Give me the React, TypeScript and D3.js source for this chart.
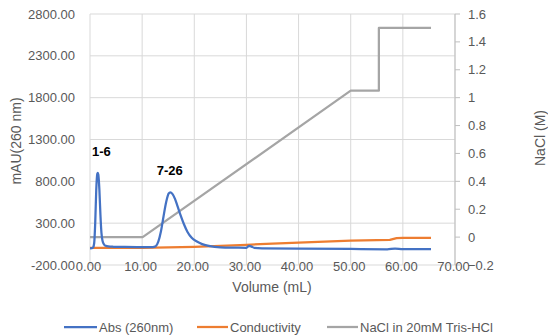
import React from "react";
import * as d3 from "d3";

const absVolume = [0, 0.4, 0.6, 0.8, 1.0, 1.2, 1.4, 1.5, 1.6, 1.8, 2.0, 2.2, 2.4, 2.7, 3.0, 3.5, 4.5, 6, 9, 12, 12.6, 13.1, 13.6, 14.1, 14.6, 15.1, 15.4, 15.8, 16.3, 16.8, 17.4, 18, 18.7, 19.5, 20.5, 21.5, 23, 25, 28, 30, 30.5, 31, 31.5, 33, 40, 50, 57, 58.5, 60, 65.4];
const absValues = [0, 2, 10, 60, 300, 700, 890, 900, 880, 700, 400, 180, 90, 45, 30, 22, 18, 16, 15, 15, 25, 80, 200, 380, 550, 655, 668, 650, 590, 500, 390, 290, 195, 125, 80, 50, 25, 12, 8, 6, 30, 20, 5, 0, -3, -8, -12, -5, -10, -10];

const condVolume = [0, 5, 10, 15, 20, 25, 30, 35, 40, 45, 50, 55, 57.5, 58.8, 60, 65.4];
const condValues = [5, 5, 6, 10, 18, 30, 42, 55, 68, 80, 90, 98, 100, 122, 125, 124];

const naclVolume = [0, 10.1, 50, 55.4, 55.4, 65.4];
const naclValues = [0, 0, 1.05, 1.05, 1.5, 1.5];

const xTicks = [0, 10, 20, 30, 40, 50, 60, 70];
const yLeftTicks = [-200, 300, 800, 1300, 1800, 2300, 2800];
const yRightTicks = [-0.2, 0, 0.2, 0.4, 0.6, 0.8, 1, 1.2, 1.4, 1.6];

const seriesNames = ["Abs (260nm)", "Conductivity", "NaCl in 20mM Tris-HCl"];
const seriesColors = ["#4472C4", "#ED7D31", "#A5A5A5"];
const peakLabels = [
  { text: "1-6", vol: 2.2, val: 1100 },
  { text: "7-26", vol: 15.3, val: 880 },
];

const FONT = '"Liberation Sans", Arial, sans-serif';
const TEXT = "#595959";

export default function App() {
  const W = 548, H = 336;
  const x = d3.scaleLinear().domain([0, 70]).range([90, 455]);
  const yL = d3.scaleLinear().domain([-200, 2800]).range([265, 14]);
  const yR = d3.scaleLinear().domain([-0.2, 1.6]).range([265, 14]);

  const absLine = d3.line<number>().x((_, i) => x(absVolume[i])).y((d) => yL(d)).curve(d3.curveMonotoneX);
  const condLine = d3.line<number>().x((_, i) => x(condVolume[i])).y((d) => yL(d));
  const naclLine = d3.line<number>().x((_, i) => x(naclVolume[i])).y((d) => yR(d));

  const legendItems = [
    { x0: 64, x1: 97, tx: 99 },
    { x0: 197, x1: 228, tx: 230 },
    { x0: 327, x1: 358, tx: 360 },
  ];

  return (
    <div style={{ position: "fixed", left: 0, top: 0 }}>
      <svg width={W} height={H} style={{ display: "block", background: "#fff" }} fontFamily={FONT}>
        {yLeftTicks.map((t) => (
          <line key={"h" + t} x1={x(0)} x2={x(70)} y1={yL(t)} y2={yL(t)} stroke="#D9D9D9" strokeWidth={1} />
        ))}
        {xTicks.map((t) => (
          <line key={"v" + t} x1={x(t)} x2={x(t)} y1={yL(2800)} y2={yL(-200)} stroke="#D9D9D9" strokeWidth={1} />
        ))}
        <line x1={x(70)} x2={x(70)} y1={yR(1.6)} y2={yR(-0.2)} stroke="#BFBFBF" strokeWidth={1} />
        {yRightTicks.map((t) => (
          <line key={"rt" + t} x1={x(70)} x2={x(70) + 5} y1={yR(t)} y2={yR(t)} stroke="#BFBFBF" strokeWidth={1} />
        ))}
        {yLeftTicks.map((t) => (
          <text key={"yl" + t} x={75} y={yL(t) + 4.5} textAnchor="end" fontSize={13} fill={TEXT}>
            {t.toFixed(2)}
          </text>
        ))}
        {yRightTicks.map((t) => (
          <text key={"yr" + t} x={468} y={yR(t) + 4.5} textAnchor="start" fontSize={13} fill={TEXT}>
            {d3.format("")(+t.toFixed(1))}
          </text>
        ))}
        {xTicks.map((t) => (
          <text key={"xl" + t} x={x(t) - 1.5} y={271} textAnchor="middle" fontSize={13} fill={TEXT}>
            {t.toFixed(2)}
          </text>
        ))}
        <text x={272} y={291.5} textAnchor="middle" fontSize={14} fill={TEXT}>Volume (mL)</text>
        <text transform="translate(21,141) rotate(-90)" textAnchor="middle" fontSize={14} fill={TEXT}>mAU(260 nm)</text>
        <text transform="translate(545,138) rotate(-90)" textAnchor="middle" fontSize={14} fill={TEXT}>NaCl (M)</text>
        <path d={naclLine(naclValues) || ""} fill="none" stroke={seriesColors[2]} strokeWidth={2.25} strokeLinejoin="round" />
        <path d={condLine(condValues) || ""} fill="none" stroke={seriesColors[1]} strokeWidth={2.25} strokeLinejoin="round" />
        <path d={absLine(absValues) || ""} fill="none" stroke={seriesColors[0]} strokeWidth={2.25} strokeLinejoin="round" />
        {peakLabels.map((p) => (
          <text key={p.text} x={x(p.vol)} y={yL(p.val)} textAnchor="middle" fontSize={13} fontWeight="bold" fill="#000">
            {p.text}
          </text>
        ))}
        {seriesNames.map((n, i) => (
          <g key={n}>
            <line x1={legendItems[i].x0} x2={legendItems[i].x1} y1={327} y2={327} stroke={seriesColors[i]} strokeWidth={2.25} />
            <text x={legendItems[i].tx} y={331.5} fontSize={13} fill={TEXT}>{n}</text>
          </g>
        ))}
      </svg>
    </div>
  );
}
